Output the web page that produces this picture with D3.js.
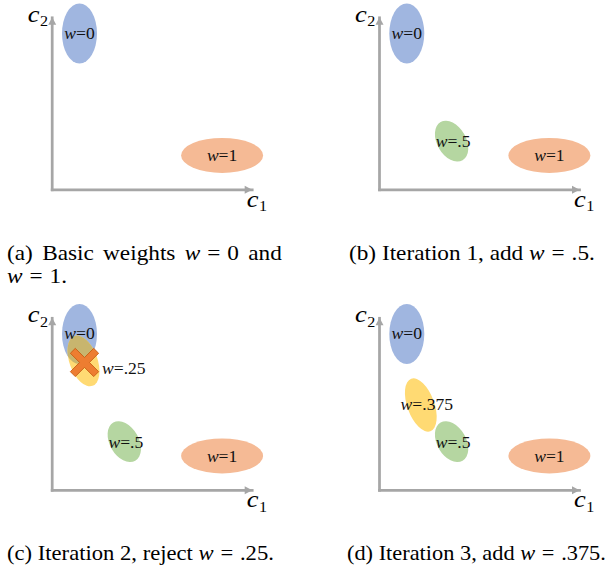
<!DOCTYPE html>
<html><head><meta charset="utf-8">
<script src="https://cdn.jsdelivr.net/npm/d3@7"></script>
<style>body{margin:0;background:#fff} svg{display:block}</style>
</head><body>
<script>
// ---------- data ----------
const panelIds = ["a", "b", "c", "d"];
const weights = [0, 1, 0.5, 0.25, 0.375];
const weightLabels = ["w=0", "w=1", "w=.5", "w=.25", "w=.375"];
const c1Values = [1.39, 8.52, 3.63, 1.59, 2.09];
const c2Values = [9.06, 1.97, 2.80, 7.49, 4.93];
const panelWeights = [[0, 1], [0, 1, 0.5], [0, 1, 0.5, 0.25], [0, 1, 0.5, 0.375]];
const rejectedWeights = [null, null, 0.25, null];
const captionLines = [
  ["(a) Basic weights $w = 0$ and", "$w = 1$."],
  ["(b) Iteration 1, add $w = .5$."],
  ["(c) Iteration 2, reject $w = .25$."],
  ["(d) Iteration 3, add $w = .375$."]
];
const axisDomain = [0, 10];
const axisLetters = ["c", "c"];
const axisSubscripts = ["1", "2"];

// ---------- layout / style ----------
const W = 607, H = 570;
const FONT = '"Liberation Serif"';
const panelPos = [[51.7, 17.3], [379, 17.3], [51.7, 317.8], [379, 317.8]];
const captionPos = [[7, 260], [349, 260], [7, 560], [347, 560]];
const captionTarget = [[275, 65], [246], [267], [259]];
const lineGap = 23;
const axisColor = "#a6a6a6";
const ellStyle = {
  0:     {fill: "#a0b6e0", rx: 17.5, ry: 30,   rot: 0},
  1:     {fill: "#f5ba95", rx: 41,   ry: 17.5, rot: 0},
  0.5:   {fill: "#b5d6a1", rx: 14.5, ry: 22,   rot: -30},
  0.25:  {fill: "#ffda73", rx: 14,   ry: 26.5, rot: -20},
  0.375: {fill: "#ffda73", rx: 13.5, ry: 28,   rot: -20}
};
const labelOff = {
  0: [0, 5.5, "middle"], 1: [0, 6, "middle"], 0.5: [1.5, 6, "middle"],
  0.25: [18.5, 13, "start"], 0.375: [6, 5, "middle"]
};
const overlapFill = "#c8b56e";

const x = d3.scaleLinear().domain(axisDomain).range([0, 200]);
const y = d3.scaleLinear().domain(axisDomain).range([172, 0]);

const svg = d3.select("body").append("svg").attr("width", W).attr("height", H);
const defs = svg.append("defs");

const byW = w => weights.indexOf(w);
const txt = (sel) => sel.append("text").style("font-family", FONT);

panelIds.forEach((pid, pi) => {
  const g = svg.append("g").attr("transform", `translate(${panelPos[pi][0]},${panelPos[pi][1]})`);

  // axes (no ticks)
  const ax = g.append("g").attr("transform", `translate(0,${y(0)})`)
    .call(d3.axisBottom(x).tickValues([]).tickSizeOuter(0));
  const ay = g.append("g")
    .call(d3.axisLeft(y).tickValues([]).tickSizeOuter(0));
  [ax, ay].forEach(a => a.select(".domain")
    .attr("stroke", axisColor).attr("stroke-width", 2.75).attr("stroke-linecap", "square"));
  // arrowheads
  const xt = x(axisDomain[1]), yt = y(axisDomain[1]);
  g.append("path").attr("fill", axisColor)
    .attr("d", `M${xt + 0.5},${y(0) + 0.5}l-7.5,-4v8z`);
  g.append("path").attr("fill", axisColor)
    .attr("d", `M0.5,${yt}l-4,7.5h8z`);

  // axis names
  const axisLab = (tx, ty, i) => {
    const t = txt(g).attr("transform", `translate(${tx},${ty}) scale(1.15,1)`)
      .attr("fill", "#000");
    t.append("tspan").style("font-style", "italic").style("font-size", "23px").text(axisLetters[i]);
    t.append("tspan").style("font-size", "14px").attr("dy", 4.5).attr("dx", 0.5).text(axisSubscripts[i]);
  };
  axisLab(x(axisDomain[1]) - 5, y(0) + 17.4, 0);
  axisLab(-24, yt + 4.6, 1);

  // ellipses
  const ws = panelWeights[pi];
  ws.forEach(w => {
    const i = byW(w), s = ellStyle[w];
    const cx = x(c1Values[i]), cy = y(c2Values[i]);
    g.append("ellipse").attr("cx", cx).attr("cy", cy).attr("rx", s.rx).attr("ry", s.ry)
      .attr("transform", `rotate(${s.rot},${cx},${cy})`).attr("fill", s.fill);
  });

  // overlap of rejected ellipse with w=0
  const rw = rejectedWeights[pi];
  if (rw !== null) {
    const i = byW(rw), s = ellStyle[rw];
    const cx = x(c1Values[i]), cy = y(c2Values[i]);
    const cid = "clip-" + pid;
    defs.append("clipPath").attr("id", cid)
      .append("ellipse").attr("cx", panelPos[pi][0] + cx).attr("cy", panelPos[pi][1] + cy)
      .attr("rx", s.rx).attr("ry", s.ry)
      .attr("transform", `rotate(${s.rot},${panelPos[pi][0] + cx},${panelPos[pi][1] + cy})`);
    const j = byW(0), s0 = ellStyle[0];
    svg.append("g").attr("clip-path", `url(#${cid})`)
      .append("ellipse")
      .attr("cx", panelPos[pi][0] + x(c1Values[j])).attr("cy", panelPos[pi][1] + y(c2Values[j]))
      .attr("rx", s0.rx).attr("ry", s0.ry).attr("fill", overlapFill);
  }

  // labels
  const lg = svg.append("g").attr("transform", `translate(${panelPos[pi][0]},${panelPos[pi][1]})`);
  ws.forEach(w => {
    const i = byW(w), o = labelOff[w];
    const lx = x(c1Values[i]) + o[0], ly = y(c2Values[i]) + o[1];
    const t = txt(lg).attr("transform", `translate(${lx},${ly}) scale(1.1,1)`)
      .attr("text-anchor", o[2]).style("font-size", "16px").attr("fill", "#111");
    const lab = weightLabels[i];
    t.append("tspan").style("font-style", "italic").text(lab[0]);
    t.append("tspan").text(lab.slice(1));
  });

  // rejection cross
  if (rw !== null) {
    const i = byW(rw);
    const cx = x(c1Values[i]) + 1, cy = y(c2Values[i]) + 1.5;
    const L = 16.5, h = 3.5;
    const pts = [[-h,-L],[h,-L],[h,-h],[L,-h],[L,h],[h,h],[h,L],[-h,L],[-h,h],[-L,h],[-L,-h],[-h,-h]];
    lg.append("path").attr("d", "M" + pts.map(p => p.join(",")).join("L") + "Z")
      .attr("transform", `translate(${cx},${cy}) rotate(45)`)
      .attr("fill", "#ed7d31").attr("stroke", "#c55a11").attr("stroke-width", 0.8);
  }
});

// captions (math between $...$: italic w, wide spacing around "=")
const capG = svg.append("g").attr("fill", "#000");
function makeCaption(str) {
  const t = txt(capG).style("font-size", "20px").style("white-space", "pre");
  str.split("$").forEach((s, k) => {
    if (!s.length) return;
    if (k % 2 === 0) { t.append("tspan").text(s); return; }
    const [lhs, rhs] = s.split("=").map(v => v.trim());
    t.append("tspan").style("font-style", "italic").text(lhs);
    t.append("tspan").attr("dx", 6).text("=");
    t.append("tspan").attr("dx", 6).text(rhs);
  });
  return t;
}
const capNodes = captionLines.map(lines => lines.map(makeCaption));
const sxRef = captionTarget[1][0] / capNodes[1][0].node().getBBox().width;
capNodes.forEach((lines, pi) => {
  lines.forEach((t, li) => {
    let sx = sxRef;
    if (pi === 0 && li === 0) {
      const w0 = t.node().getBBox().width;
      const nSp = (captionLines[0][0].replace(/\$[^$]*\$/g, "M").match(/ /g) || []).length;
      t.style("word-spacing", ((captionTarget[0][0] / sx - w0) / nSp) + "px");
    } else if (pi !== 0) {
      sx = captionTarget[pi][li] / t.node().getBBox().width;
    }
    t.attr("transform", `translate(${captionPos[pi][0]},${captionPos[pi][1] + li * lineGap}) scale(${sx},1)`);
  });
});
</script>
</body></html>
